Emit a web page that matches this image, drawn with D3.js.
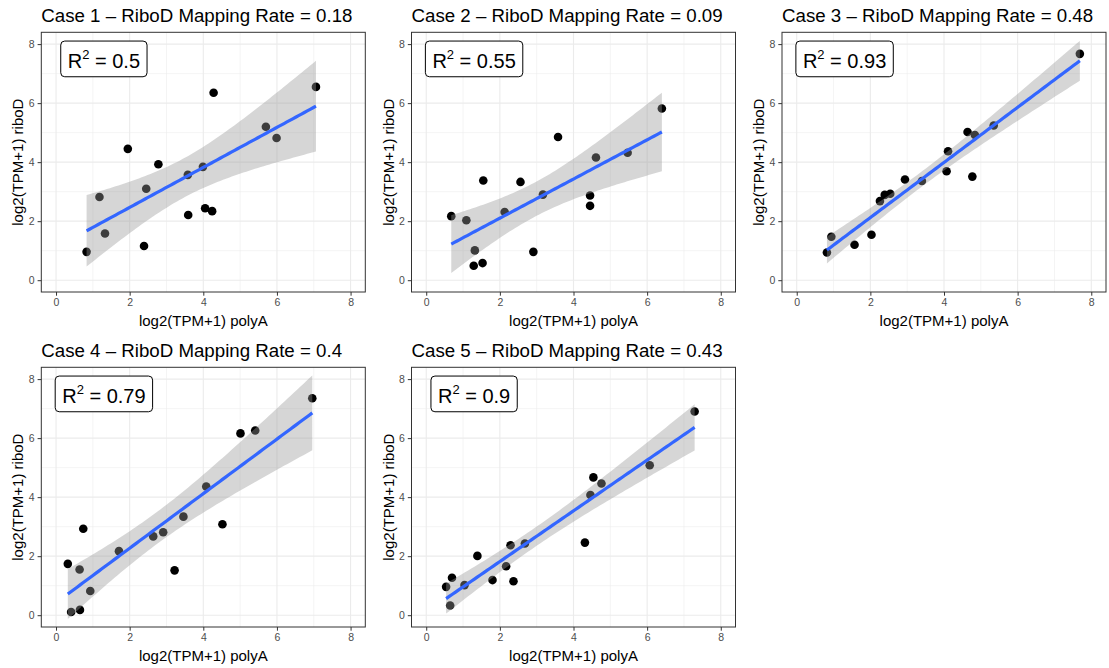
<!DOCTYPE html>
<html>
<head>
<meta charset="utf-8">
<script src="https://cdn.jsdelivr.net/npm/d3@7"></script>
<style>
  html, body { margin: 0; padding: 0; background: #fff; }
  svg { display: block; font-family: "Liberation Sans", Arial, Helvetica, sans-serif; }
</style>
</head>
<body>
<svg id="chart" width="1109" height="668"></svg>
<script>
// ---- data ----
const titles = [
  "Case 1 \u2013 RiboD Mapping Rate = 0.18",
  "Case 2 \u2013 RiboD Mapping Rate = 0.09",
  "Case 3 \u2013 RiboD Mapping Rate = 0.48",
  "Case 4 \u2013 RiboD Mapping Rate = 0.4",
  "Case 5 \u2013 RiboD Mapping Rate = 0.43"
];
const r2Labels = ["0.5", "0.55", "0.93", "0.79", "0.9"];
const xTicks = [0, 2, 4, 6, 8];
const yTicks = [0, 2, 4, 6, 8];
const xTitle = "log2(TPM+1) polyA";
const yTitle = "log2(TPM+1) riboD";

const case1X = [0.83, 1.18, 1.33, 1.95, 2.39, 2.45, 2.78, 3.58, 3.59, 3.99, 4.05, 4.24, 4.28, 5.70, 5.99, 7.06];
const case1Y = [0.96, 2.82, 1.58, 4.45, 1.16, 3.10, 3.93, 3.57, 2.21, 3.84, 2.44, 2.34, 6.35, 5.20, 4.82, 6.55];

const case2X = [0.68, 1.09, 1.29, 1.32, 1.53, 1.55, 2.13, 2.56, 2.91, 3.17, 3.58, 4.45, 4.45, 4.61, 5.47, 6.40];
const case2Y = [2.17, 2.03, 0.49, 1.01, 0.58, 3.38, 2.31, 3.33, 0.96, 2.90, 4.85, 2.87, 2.52, 4.16, 4.32, 5.82];

const case3X = [0.82, 0.94, 1.57, 2.03, 2.26, 2.39, 2.54, 2.94, 3.40, 4.07, 4.11, 4.64, 4.77, 4.84, 5.35, 7.69];
const case3Y = [0.94, 1.47, 1.20, 1.54, 2.68, 2.89, 2.93, 3.41, 3.36, 3.69, 4.37, 5.02, 3.51, 4.92, 5.24, 7.67];

const case4X = [0.32, 0.41, 0.64, 0.65, 0.74, 0.93, 1.71, 2.64, 2.91, 3.22, 3.46, 4.08, 4.52, 5.01, 5.41, 6.96];
const case4Y = [1.74, 0.11, 1.55, 0.18, 2.93, 0.82, 2.17, 2.67, 2.81, 1.52, 3.34, 4.36, 3.08, 6.16, 6.26, 7.35];

const case5X = [0.54, 0.65, 0.70, 1.04, 1.39, 1.80, 2.17, 2.29, 2.37, 2.68, 4.31, 4.46, 4.54, 4.76, 6.07, 7.29];
const case5Y = [0.96, 0.33, 1.27, 1.02, 2.01, 1.19, 1.66, 2.37, 1.15, 2.43, 2.46, 4.07, 4.67, 4.46, 5.08, 6.90];

const casesX = [case1X, case2X, case3X, case4X, case5X];
const casesY = [case1Y, case2Y, case3Y, case4Y, case5Y];

// ---- layout ----
const panelLefts = [41.3, 411.5, 782, 41.3, 411.5];
const panelTops = [32.3, 32.3, 32.3, 367.3, 367.3];
const panelW = 324, panelH = 259.7;
const domain = [-0.4, 8.4];
const labelPos = [1.3, 7.5];

const svg = d3.select("#chart");

// Student t 97.5% quantiles by df
function tq(df) {
  const tbl = {10:2.2281,11:2.2010,12:2.1788,13:2.1604,14:2.1448,15:2.1314,16:2.1199,17:2.1098,18:2.1009};
  return tbl[df] || 1.96;
}

function fit(xs, ys) {
  const n = xs.length;
  const mx = d3.mean(xs), my = d3.mean(ys);
  let sxx = 0, sxy = 0;
  for (let i = 0; i < n; i++) { sxx += (xs[i]-mx)**2; sxy += (xs[i]-mx)*(ys[i]-my); }
  const b = sxy / sxx, a = my - b*mx;
  let sse = 0;
  for (let i = 0; i < n; i++) sse += (ys[i] - a - b*xs[i])**2;
  const s = Math.sqrt(sse/(n-2));
  const t = tq(n-2);
  const [lo, hi] = d3.extent(xs);
  return d3.range(80).map(k => {
    const x = lo + (hi-lo)*k/79;
    const yh = a + b*x;
    const se = s*Math.sqrt(1/n + (x-mx)**2/sxx);
    return {x, y: yh, ymin: yh - t*se, ymax: yh + t*se};
  });
}

casesX.forEach((xs, i) => {
  const ys = casesY[i];
  const L = panelLefts[i], T = panelTops[i];
  const x = d3.scaleLinear().domain(domain).range([L, L+panelW]);
  const y = d3.scaleLinear().domain(domain).range([T+panelH, T]);
  const g = svg.append("g");

  const clipId = "clip" + i;
  svg.append("clipPath").attr("id", clipId).append("rect")
    .attr("x", L).attr("y", T).attr("width", panelW).attr("height", panelH);

  // minor grid
  const minor = [1, 3, 5, 7];
  g.selectAll(".mx").data(minor).join("line")
    .attr("x1", d => x(d)).attr("x2", d => x(d)).attr("y1", T).attr("y2", T+panelH)
    .attr("stroke", "#EBEBEB").attr("stroke-width", 0.55);
  g.selectAll(".my").data(minor).join("line")
    .attr("y1", d => y(d)).attr("y2", d => y(d)).attr("x1", L).attr("x2", L+panelW)
    .attr("stroke", "#EBEBEB").attr("stroke-width", 0.55);
  // major grid
  g.selectAll(".gx").data(xTicks).join("line")
    .attr("x1", d => x(d)).attr("x2", d => x(d)).attr("y1", T).attr("y2", T+panelH)
    .attr("stroke", "#EBEBEB").attr("stroke-width", 1.1);
  g.selectAll(".gy").data(yTicks).join("line")
    .attr("y1", d => y(d)).attr("y2", d => y(d)).attr("x1", L).attr("x2", L+panelW)
    .attr("stroke", "#EBEBEB").attr("stroke-width", 1.1);

  const plot = g.append("g").attr("clip-path", `url(#${clipId})`);

  // points
  plot.selectAll("circle").data(xs.map((v, k) => [v, ys[k]])).join("circle")
    .attr("cx", d => x(d[0])).attr("cy", d => y(d[1])).attr("r", 4.3)
    .attr("fill", "#000");

  // smooth
  const pts = fit(xs, ys);
  plot.append("path").datum(pts)
    .attr("d", d3.area().x(d => x(d.x)).y0(d => y(d.ymin)).y1(d => y(d.ymax)))
    .attr("fill", "#999999").attr("fill-opacity", 0.4);
  plot.append("path").datum(pts)
    .attr("d", d3.line().x(d => x(d.x)).y(d => y(d.y)))
    .attr("fill", "none").attr("stroke", "#3366FF").attr("stroke-width", 3.2);

  // R2 label
  const cx = x(labelPos[0]), cy = y(labelPos[1]);
  const lab = g.append("g");
  const txt = lab.append("text").attr("font-size", 20).attr("fill", "#000")
    .attr("y", cy + 9.5);
  txt.append("tspan").text("R");
  txt.append("tspan").attr("font-size", 13).attr("dy", -9.5).text("2");
  txt.append("tspan").attr("dy", 9.5).text(" = " + r2Labels[i]);
  const bb = txt.node().getBBox();
  const padX = 7;
  const boxW = bb.width + 2*padX;
  txt.attr("x", cx - bb.width/2);
  lab.insert("rect", "text")
    .attr("x", cx - boxW/2).attr("y", cy - 17.8)
    .attr("width", boxW).attr("height", 35.7)
    .attr("rx", 4).attr("ry", 4)
    .attr("fill", "#fff").attr("stroke", "#000").attr("stroke-width", 1);

  // border
  g.append("rect").attr("x", L).attr("y", T).attr("width", panelW).attr("height", panelH)
    .attr("fill", "none").attr("stroke", "#333333").attr("stroke-width", 1);

  // axes
  const xa = g.append("g").attr("transform", `translate(0,${T+panelH})`)
    .call(d3.axisBottom(x).tickValues(xTicks).tickSize(3.7).tickPadding(3).tickFormat(d3.format("d")));
  const ya = g.append("g").attr("transform", `translate(${L},0)`)
    .call(d3.axisLeft(y).tickValues(yTicks).tickSize(3.7).tickPadding(3).tickFormat(d3.format("d")));
  [xa, ya].forEach(a => {
    a.select(".domain").remove();
    a.selectAll(".tick line").attr("stroke", "#333333").attr("stroke-width", 1);
    a.selectAll(".tick text").attr("fill", "#4D4D4D").attr("font-size", 10.5)
      .attr("font-family", "Liberation Sans, Arial, sans-serif");
  });

  // titles
  g.append("text").attr("x", L).attr("y", T - 10.3).attr("font-size", 18.7).attr("fill", "#000")
    .text(titles[i]);
  g.append("text").attr("x", L + panelW/2).attr("y", T + panelH + 33.8)
    .attr("text-anchor", "middle").attr("font-size", 15).attr("fill", "#000").text(xTitle);
  g.append("text")
    .attr("transform", `translate(${L - 18},${T + panelH/2}) rotate(-90)`)
    .attr("text-anchor", "middle").attr("font-size", 15).attr("fill", "#000").text(yTitle);
});
</script>
</body>
</html>
